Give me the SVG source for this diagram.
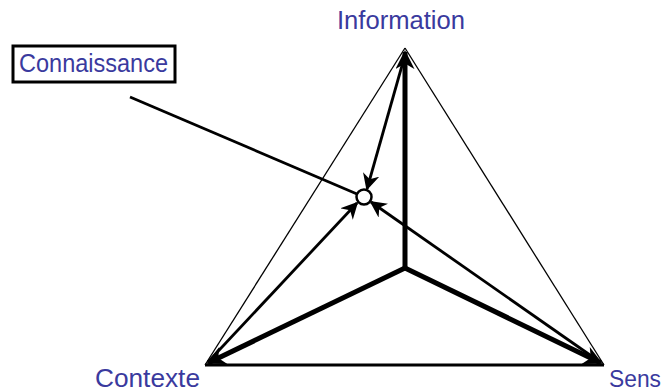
<svg xmlns="http://www.w3.org/2000/svg" width="665" height="392" viewBox="0 0 665 392">
<style>
text{font-family:"Liberation Sans","Open Sans",sans-serif;font-size:25px;fill:#3a3a9e}
.thin{stroke:#000;stroke-width:1.3;fill:none}
.mid{stroke:#000;stroke-width:2.8;fill:none}
.thick{stroke:#000;stroke-width:5;fill:none}
</style>
<defs>
<marker id="ah" viewBox="0 0 10 10" refX="9" refY="5" markerWidth="6" markerHeight="6" orient="auto" markerUnits="strokeWidth"><path d="M0,0 L10,5 L0,10 L3,5 Z" fill="#000"/></marker>
<marker id="ahT" viewBox="0 0 10 10" refX="9" refY="5" markerWidth="3.8" markerHeight="3.8" orient="auto" markerUnits="strokeWidth"><path d="M0,0 L10,5 L0,10 L3,5 Z" fill="#000"/></marker>
</defs>
<g id="connectors">
<line class="thin" x1="405" y1="48" x2="205" y2="365"/>
<line class="thin" x1="405" y1="48" x2="604" y2="365"/>
<line class="mid" x1="205" y1="365" x2="604" y2="365"/>
<line class="thick" x1="405" y1="268" x2="405" y2="52" marker-end="url(#ahT)"/>
<line class="thick" x1="405" y1="268" x2="208" y2="363" marker-end="url(#ahT)"/>
<line class="thick" x1="405" y1="268" x2="601" y2="363" marker-end="url(#ahT)"/>
<line class="mid" x1="405" y1="55" x2="367" y2="189" marker-end="url(#ah)"/>
<line class="mid" x1="208" y1="362" x2="357" y2="203" marker-end="url(#ah)"/>
<line class="mid" x1="600" y1="362" x2="371" y2="202" marker-end="url(#ah)"/>
<line class="mid" x1="130" y1="97" x2="357" y2="194"/>
</g>
<g id="knowledge-point"><circle cx="364" cy="197" r="7.5" fill="#fff" stroke="#000" stroke-width="2.5"/></g>
<g id="information"><text x="337" y="29" textLength="128" lengthAdjust="spacingAndGlyphs">Information</text></g>
<g id="contexte"><text x="95" y="387" textLength="105" lengthAdjust="spacingAndGlyphs">Contexte</text></g>
<g id="sens"><text x="609" y="387" style="font-size:23px" textLength="52" lengthAdjust="spacingAndGlyphs">Sens</text></g>
<g id="connaissance"><rect x="13" y="46" width="162" height="36" fill="#fff" stroke="#000" stroke-width="3"/><text x="19" y="72" textLength="149" lengthAdjust="spacingAndGlyphs">Connaissance</text></g>
</svg>
